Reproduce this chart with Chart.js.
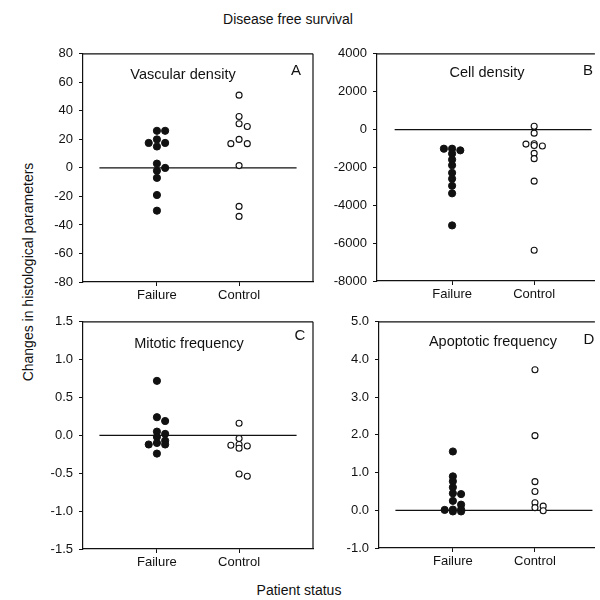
<!DOCTYPE html>
<html>
<head>
<meta charset="utf-8">
<script src="https://cdn.jsdelivr.net/npm/chart.js@4.4.1/dist/chart.umd.min.js"></script>
<style>
  body { margin: 0; width: 600px; height: 600px; background: #fff; position: relative; overflow: hidden;
         font-family: "Liberation Sans", Arial, sans-serif; color: #111; }
  canvas { position: absolute; }
  #title { position: absolute; left: 0; width: 576px; top: 11px; text-align: center; font-size: 14px; }
  #xlabel { position: absolute; left: 0; width: 598px; top: 582px; text-align: center; font-size: 14px; }
  #ylabel { position: absolute; left: -122px; top: 264px; width: 300px; height: 16px; line-height: 16px;
            text-align: center; font-size: 14px; transform: rotate(-90deg); }
</style>
</head>
<body>
<div id="title">Disease free survival</div>
<div id="ylabel">Changes in histological parameters</div>
<div id="xlabel">Patient status</div>

<canvas id="panelA" width="290" height="275" style="left:30px;top:40px"></canvas>
<canvas id="panelB" width="280" height="275" style="left:320px;top:40px"></canvas>
<canvas id="panelC" width="290" height="270" style="left:30px;top:308px"></canvas>
<canvas id="panelD" width="280" height="270" style="left:320px;top:308px"></canvas>

<script>
// categories on the x axis
const categories = ["Failure", "Control"];

// A - vascular density
const vascularFailure = [26, 26, 20, 17.5, 17.5, 15, 3, 0, -2, -7, -19, -30];
const vascularControl = [51, 36, 31, 29, 20, 17, 17, 1.6, -27, -34];
const vascularTicks = [-80, -60, -40, -20, 0, 20, 40, 60, 80];

// B - cell density
const cellFailure = [-1013, -1100, -1275, -1013, -1590, -1886, -2288, -2600, -2970, -3370, -5065];
const cellControl = [175, -192, -750, -870, -770, -840, -1258, -1537, -2725, -6376];
const cellTicks = [-8000, -6000, -4000, -2000, 0, 2000, 4000];

// C - mitotic frequency
const mitoticFailure = [0.72, 0.24, 0.19, 0.05, 0.02, -0.02, -0.07, -0.10, -0.12, -0.12, -0.24];
const mitoticControl = [0.16, -0.04, -0.12, -0.14, -0.13, -0.17, -0.51, -0.54];
const mitoticTicks = [-1.5, -1.0, -0.5, 0.0, 0.5, 1.0, 1.5];

// D - apoptotic frequency
const apoptoticFailure = [1.56, 0.9, 0.77, 0.61, 0.45, 0.43, 0.25, 0.15, 0.02, 0.02, 0.01, -0.03, -0.03];
const apoptoticControl = [3.73, 1.98, 0.76, 0.50, 0.20, 0.11, 0.07, -0.01];
const apoptoticTicks = [-1.0, 0.0, 1.0, 2.0, 3.0, 4.0, 5.0];

const FONT = '"Liberation Sans", Arial, sans-serif';
const INK = "#111";

// spread points sideways so they don't sit on top of each other
function dodge(values, pxPerUnit) {
  const slots = [0, 1, -1];
  const placed = [];
  return values.map(v => {
    let best = 0, bestGap = -1;
    for (const s of slots) {
      const gaps = placed.filter(p => p.s === s).map(p => Math.abs(p.v - v) * pxPerUnit);
      const gap = gaps.length ? Math.min(...gaps) : Infinity;
      if (gap >= 4.5) { best = s; break; }
      if (gap > bestGap) { bestGap = gap; best = s; }
    }
    placed.push({ s: best, v: v });
    return best;
  });
}

function points(values, catIndex, ticks) {
  const pxPerUnit = 229 / (ticks[ticks.length - 1] - ticks[0]);
  const off = dodge(values, pxPerUnit);
  return values.map((v, i) => ({ x: catIndex + 1 + off[i] * 0.1, y: v }));
}

const framePlugin = {
  id: "frame",
  afterDatasetsDraw(chart, args, o) {
    const ctx = chart.ctx, a = chart.chartArea;
    ctx.save();
    ctx.strokeStyle = INK;
    ctx.lineWidth = 1.2;
    ctx.beginPath();
    ctx.moveTo(a.left, a.top);
    ctx.lineTo(a.right, a.top);
    if (o.rightEdge) {
      ctx.moveTo(a.right, a.top);
      ctx.lineTo(a.right, a.bottom);
    }
    ctx.stroke();
    ctx.fillStyle = INK;
    ctx.textAlign = "center";
    ctx.textBaseline = "middle";
    ctx.font = "14.5px " + FONT;
    ctx.fillText(o.name, a.left + o.nameDx, a.top + o.nameDy);
    ctx.font = "15px " + FONT;
    ctx.fillText(o.letter, a.right - o.letterDx, a.top + o.letterDy);
    ctx.restore();
  }
};

function makePanel(id, cfg) {
  const ticks = cfg.ticks;
  const lo = cfg.xRange[0], hi = cfg.xRange[1];
  new Chart(document.getElementById(id), {
    type: "scatter",
    data: {
      datasets: [
        {
          data: points(cfg.failure, 0, ticks),
          pointRadius: 3.6, pointBackgroundColor: INK, pointBorderColor: INK, pointBorderWidth: 1,
          order: 0
        },
        {
          data: points(cfg.control, 1, ticks),
          pointRadius: 3, pointBackgroundColor: "#fff", pointBorderColor: INK, pointBorderWidth: 1.1,
          order: 1
        },
        {
          data: [{ x: 0.3, y: 0 }, { x: 2.7, y: 0 }],
          showLine: true, borderColor: INK, borderWidth: 1.2, pointRadius: 0,
          order: 2
        }
      ]
    },
    options: {
      responsive: false,
      animation: false,
      events: [],
      layout: { padding: { top: cfg.padTop, right: cfg.padRight, left: 0, bottom: 0 } },
      plugins: {
        legend: { display: false },
        tooltip: { enabled: false },
        frame: cfg.frame
      },
      scales: {
        x: {
          type: "linear", min: lo, max: hi,
          afterBuildTicks: s => { s.ticks = categories.map((c, i) => ({ value: i + 1 })); },
          afterFit: s => { s.height = cfg.xHeight; },
          ticks: { callback: v => categories[v - 1], color: INK, font: { family: FONT, size: 13 },
                   padding: 2, autoSkip: false, maxRotation: 0 },
          grid: { drawOnChartArea: false, tickLength: 4, color: INK },
          border: { color: INK, width: 1.2 }
        },
        y: {
          min: ticks[0], max: ticks[ticks.length - 1],
          afterBuildTicks: s => { s.ticks = ticks.map(v => ({ value: v })); },
          afterFit: s => { s.width = cfg.yWidth; },
          ticks: { callback: cfg.fmt, color: INK, font: { family: FONT, size: 13 }, padding: 6 },
          grid: { drawOnChartArea: false, tickLength: 4, color: INK },
          border: { color: INK, width: 1.2 }
        }
      }
    },
    plugins: [framePlugin]
  });
}

const intFmt = v => String(v);
const decFmt = v => Number(v).toFixed(1);

makePanel("panelA", {
  failure: vascularFailure, control: vascularControl, ticks: vascularTicks, fmt: intFmt,
  xRange: [0.1, 2.9], padTop: 12, padRight: 7, xHeight: 33, yWidth: 53,
  frame: { rightEdge: true, name: "Vascular density", nameDx: 100, nameDy: 21, letter: "A", letterDx: 17, letterDy: 17 }
});
makePanel("panelB", {
  failure: cellFailure, control: cellControl, ticks: cellTicks, fmt: intFmt,
  xRange: [0.085, 2.74], padTop: 12, padRight: 5, xHeight: 34, yWidth: 57,
  frame: { rightEdge: false, name: "Cell density", nameDx: 110, nameDy: 19, letter: "B", letterDx: 7, letterDy: 17 }
});
makePanel("panelC", {
  failure: mitoticFailure, control: mitoticControl, ticks: mitoticTicks, fmt: decFmt,
  xRange: [0.1, 2.9], padTop: 13, padRight: 7, xHeight: 29, yWidth: 53,
  frame: { rightEdge: true, name: "Mitotic frequency", nameDx: 106, nameDy: 22, letter: "C", letterDx: 13, letterDy: 14 }
});
makePanel("panelD", {
  failure: apoptoticFailure, control: apoptoticControl, ticks: apoptoticTicks, fmt: decFmt,
  xRange: [0.1, 2.73], padTop: 11, padRight: 5, xHeight: 30, yWidth: 59,
  frame: { rightEdge: false, name: "Apoptotic frequency", nameDx: 114, nameDy: 20, letter: "D", letterDx: 6, letterDy: 18 }
});
</script>
</body>
</html>
